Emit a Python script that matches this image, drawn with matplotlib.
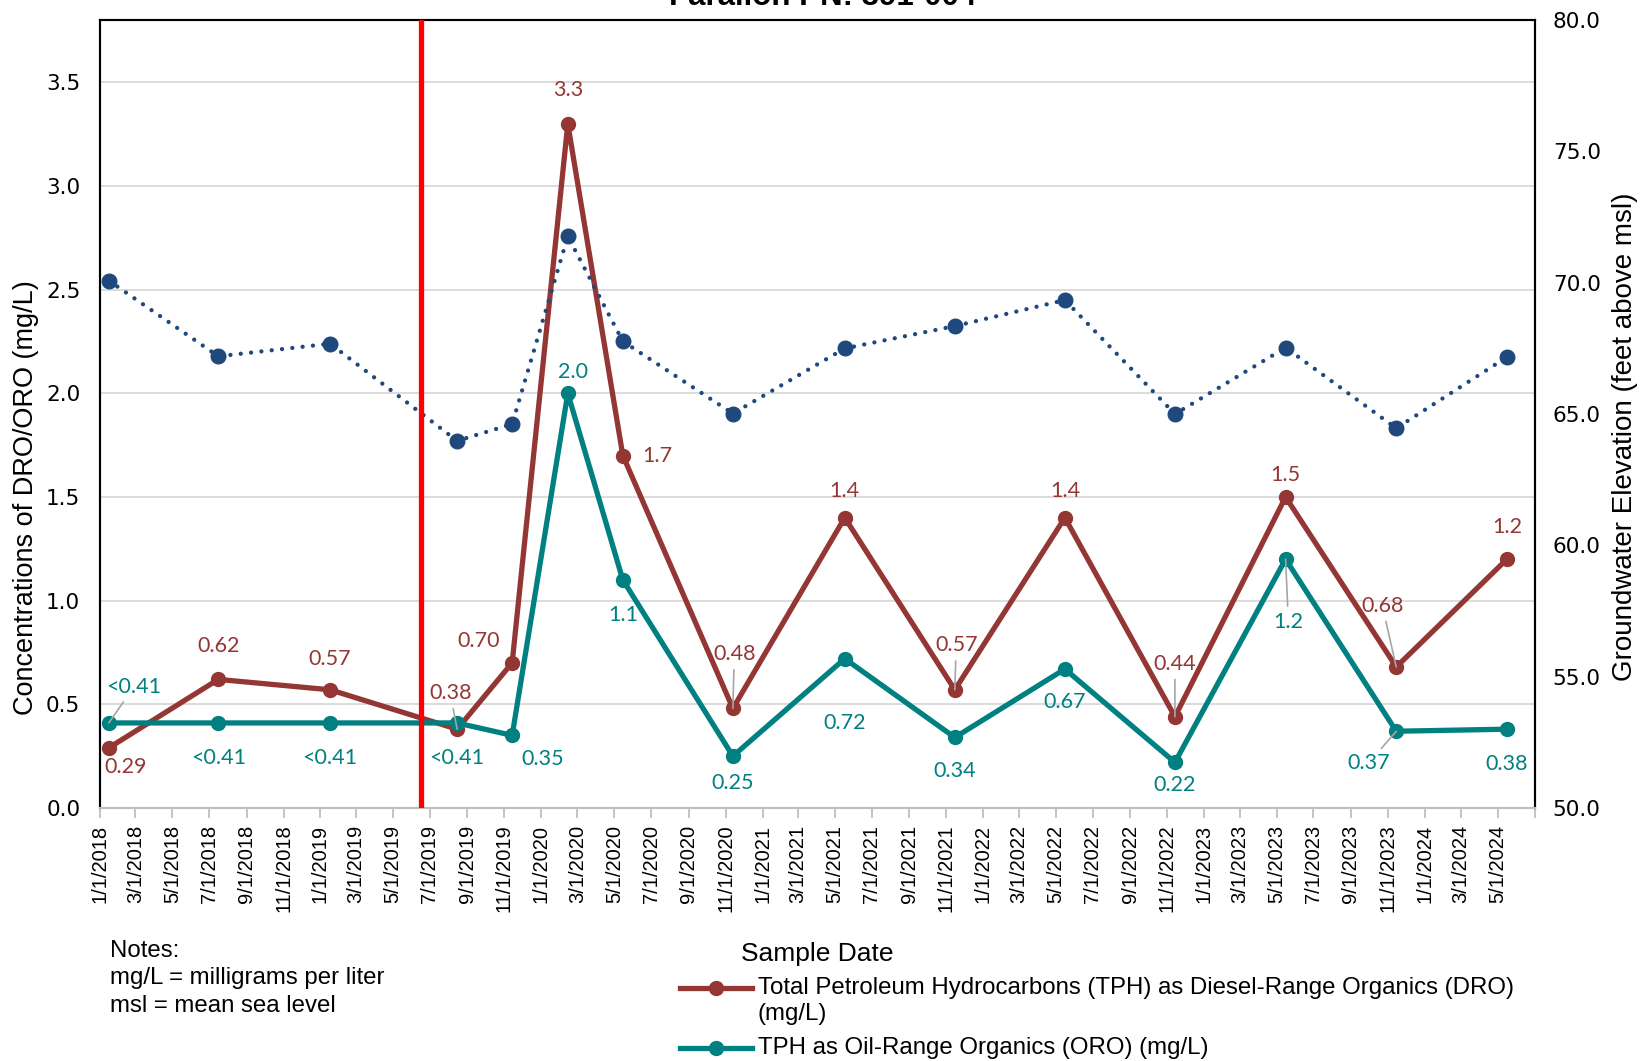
import matplotlib
matplotlib.use("Agg")
import matplotlib.pyplot as plt
from matplotlib.lines import Line2D
import numpy as np
import datetime as dt

# sample dates
dates = ["2018-01-16", "2018-07-16", "2019-01-17", "2019-08-15", "2019-11-14",
         "2020-02-14", "2020-05-15", "2020-11-13", "2021-05-17", "2021-11-15",
         "2022-05-16", "2022-11-14", "2023-05-16", "2023-11-15", "2024-05-16"]
dro = [0.29, 0.62, 0.57, 0.38, 0.70, 3.3, 1.7, 0.48, 1.4, 0.57, 1.4, 0.44, 1.5, 0.68, 1.2]
dro_lbl = ["0.29", "0.62", "0.57", "0.38", "0.70", "3.3", "1.7", "0.48", "1.4", "0.57",
           "1.4", "0.44", "1.5", "0.68", "1.2"]
oro = [0.41, 0.41, 0.41, 0.41, 0.35, 2.0, 1.1, 0.25, 0.72, 0.34, 0.67, 0.22, 1.2, 0.37, 0.38]
oro_lbl = ["<0.41", "<0.41", "<0.41", "<0.41", "0.35", "2.0", "1.1", "0.25", "0.72",
           "0.34", "0.67", "0.22", "1.2", "0.37", "0.38"]
gw = [70.08, 67.2, 67.68, 63.98, 64.62, 71.77, 67.77, 65.02, 67.5, 68.35, 69.34,
      65.0, 67.53, 64.46, 67.17]
event_date = "2019-06-16"

x = [dt.datetime.strptime(d, "%Y-%m-%d") for d in dates]

RED = "#943634"
TEAL = "#008080"
BLUE = "#1F497D"
ARIAL = ["Liberation Sans", "DejaVu Sans"]
WIDE = ["DejaVu Sans"]
LBL = ["Lato", "DejaVu Sans"]

# label offsets in points (dx, dy), and whether a leader line is drawn
dro_off = [(12, -14), (0, 24), (0, 22), (-5, 26), (-24, 16), (0, 24), (25, 0), (1, 39),
           (0, 19), (1, 32), (0, 19), (0, 38), (0, 16), (-10, 44), (0, 23)]
dro_lead = [0, 0, 0, 1, 0, 0, 0, 1, 0, 1, 0, 1, 0, 1, 0]
oro_off = [(18, 26), (0, -25), (0, -25), (0, -25), (22, -17), (4, 15), (0, -25), (0, -19),
           (0, -46), (0, -24), (0, -24), (0, -16), (2, -45), (-20, -23), (0, -25)]
oro_lead = [1, 0, 0, 0, 0, 0, 0, 0, 0, 0, 0, 0, 1, 1, 0]

fig = plt.figure(figsize=(16.46, 10.61), dpi=100)
ax = fig.add_axes([0.0606, 0.2385, 0.8718, 0.7425])
ax2 = ax.twinx()

ax.set_ylim(0, 3.8)
ax.set_yticks(np.arange(0, 3.51, 0.5))
ax.set_yticklabels(["%.1f" % v for v in np.arange(0, 3.51, 0.5)])
ax.grid(axis="y", color="#D9D9D9", lw=1.3)
ax.set_axisbelow(True)
ax2.set_ylim(50, 80)
ax2.set_yticks(np.arange(50, 80.1, 5))
ax2.set_yticklabels(["%.1f" % v for v in np.arange(50, 80.1, 5)])

ax.set_xlim(dt.datetime(2018, 1, 1), dt.datetime(2024, 7, 1))
ticks = [dt.datetime(2018 + m // 12, m % 12 + 1, 1) for m in range(0, 79, 2)]
ax.set_xticks(ticks)
ax.set_xticklabels(["%d/1/%d" % (t.month, t.year) if t < dt.datetime(2024, 7, 1) else ""
                    for t in ticks], rotation=90)

for a in (ax, ax2):
    for s in ("left", "right", "top"):
        a.spines[s].set_color("black")
        a.spines[s].set_linewidth(1.5)
    a.spines["bottom"].set_color("#BFBFBF")
    a.spines["bottom"].set_linewidth(1.5)
ax.tick_params(axis="x", length=7, width=1.3, color="#BFBFBF", pad=5)
ax.tick_params(axis="y", length=0, pad=14)
ax2.tick_params(axis="y", length=0, pad=13)
for t in ax.get_xticklabels():
    t.set_family(ARIAL)
    t.set_fontsize(14.5)
for t in ax.get_yticklabels():
    t.set_family(WIDE)
    t.set_fontsize(15.5)
for t in ax2.get_yticklabels():
    t.set_family(WIDE)
    t.set_fontsize(15.5)

ax.plot(x, dro, color=RED, lw=3.8, marker="o", ms=10, zorder=3)
ax.plot(x, oro, color=TEAL, lw=3.8, marker="o", ms=10, zorder=3)
ax2.plot(x, gw, color=BLUE, lw=3.1, ls=(0, (0.01, 2.4)), dash_capstyle="round",
         marker="o", ms=10.5, zorder=3)

for xi, yi, s, o, ld in zip(x, dro, dro_lbl, dro_off, dro_lead):
    ap = dict(arrowstyle="-", color="#A6A6A6", lw=1.2, shrinkA=2, shrinkB=0) if ld else None
    ax.annotate(s, (xi, yi), xytext=o, textcoords="offset points", ha="center",
                va="center", color=RED, fontsize=15.5, family=LBL, arrowprops=ap, zorder=5)
for xi, yi, s, o, ld in zip(x, oro, oro_lbl, oro_off, oro_lead):
    ap = dict(arrowstyle="-", color="#A6A6A6", lw=1.2, shrinkA=2, shrinkB=0) if ld else None
    ax.annotate(s, (xi, yi), xytext=o, textcoords="offset points", ha="center",
                va="center", color=TEAL, fontsize=15.5, family=LBL, arrowprops=ap, zorder=5)

ed = dt.datetime.strptime(event_date, "%Y-%m-%d")
ax2.axvline(ed, color="#FF0000", lw=3.8, zorder=6)

ax.set_ylabel("Concentrations of DRO/ORO (mg/L)", family=ARIAL, fontsize=19.5)
ax.yaxis.set_label_coords(-0.0515, 0.394)
ax.yaxis.label.set_va("center")
ax2.set_ylabel("Groundwater Elevation (feet above msl)", family=ARIAL, fontsize=20)
ax2.yaxis.set_label_coords(1.0632, 0.471)
ax2.yaxis.label.set_va("center")
ax.set_xlabel("Sample Date", family=ARIAL, fontsize=19)
ax.xaxis.label.set_va("center")
ax.xaxis.set_label_coords(0.5, -0.186)

fig.text(0.5, 1 - 5 / 1061, "Farallon PN: 391-004", ha="center", va="baseline",
         fontsize=22.5, weight="bold", family=ARIAL)

notes = ["Notes:", "mg/L = milligrams per liter", "msl = mean sea level"]
for yy, s in zip([0.1037, 0.0782, 0.0518], notes):
    fig.text(0.0669, yy, s, ha="left", va="center", family=ARIAL, fontsize=17.3)

# legend: line + marker handles with labels beside them
for y0, c in [(0.0688, RED), (0.0123, TEAL)]:
    fig.add_artist(Line2D([0.413, 0.435, 0.457], [y0, y0, y0], transform=fig.transFigure,
                          color=c, lw=3.8, marker="o", ms=10, markevery=[1]))
fig.text(0.4605, 0.0688, "Total Petroleum Hydrocarbons (TPH) as Diesel-Range Organics (DRO)",
         ha="left", va="center", family=ARIAL, fontsize=17.3)
fig.text(0.4605, 0.0443, "(mg/L)", ha="left", va="center", family=ARIAL, fontsize=17.3)
fig.text(0.4605, 0.0123, "TPH as Oil-Range Organics (ORO) (mg/L)", ha="left", va="center",
         family=ARIAL, fontsize=17.3)

fig.savefig("out.png", dpi=100)
